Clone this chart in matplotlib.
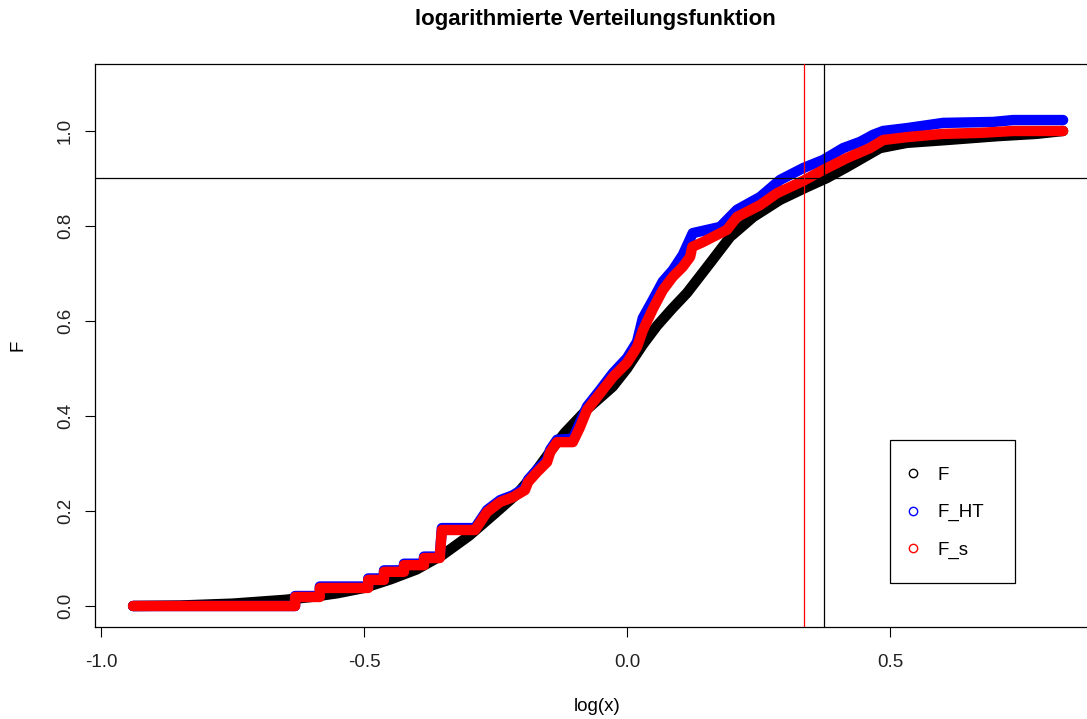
import matplotlib
matplotlib.use("Agg")
import matplotlib.pyplot as plt
from matplotlib.patches import Rectangle
from matplotlib.lines import Line2D

plt.rcParams['font.family'] = ['Liberation Sans', 'DejaVu Sans']

# empirische Verteilungsfunktion F (schwarz)
x_F = [-0.939, -0.85, -0.80, -0.75, -0.70, -0.65, -0.60, -0.55, -0.50, -0.45,
       -0.40, -0.35, -0.30, -0.25, -0.209, -0.179, -0.143, -0.118, -0.075, -0.027,
       0.0, 0.03, 0.057, 0.085, 0.114, 0.158, 0.196, 0.240, 0.291, 0.342,
       0.380, 0.418, 0.481, 0.532, 0.608, 0.703, 0.779, 0.829]
y_F = [0.0, 0.001, 0.003, 0.005, 0.009, 0.013, 0.019, 0.027, 0.038, 0.056,
       0.077, 0.108, 0.148, 0.196, 0.236, 0.275, 0.330, 0.365, 0.415, 0.462,
       0.500, 0.550, 0.590, 0.625, 0.659, 0.722, 0.777, 0.819, 0.855, 0.882,
       0.901, 0.924, 0.964, 0.975, 0.981, 0.989, 0.994, 1.0]

# Horvitz-Thompson Schaetzer F_HT (blau)
x_HT = [-0.939, -0.631, -0.631, -0.584, -0.584, -0.492, -0.492, -0.462, -0.462, -0.424,
        -0.424, -0.386, -0.386, -0.356, -0.352, -0.289, -0.266, -0.241, -0.217, -0.194,
        -0.188, -0.171, -0.152, -0.146, -0.133, -0.103, -0.090, -0.076, -0.051, -0.027,
        0.0, 0.019, 0.030, 0.049, 0.068, 0.087, 0.106, 0.125, 0.177, 0.209,
        0.253, 0.291, 0.335, 0.373, 0.411, 0.443, 0.468, 0.487, 0.532, 0.601,
        0.696, 0.734, 0.829]
y_HT = [0.0, 0.0, 0.021, 0.021, 0.041, 0.041, 0.058, 0.058, 0.075, 0.075,
        0.089, 0.089, 0.104, 0.104, 0.164, 0.164, 0.202, 0.223, 0.233, 0.249,
        0.266, 0.287, 0.308, 0.329, 0.350, 0.352, 0.385, 0.420, 0.455, 0.490,
        0.522, 0.556, 0.606, 0.644, 0.683, 0.707, 0.739, 0.785, 0.798, 0.834,
        0.861, 0.897, 0.922, 0.939, 0.964, 0.977, 0.992, 1.0, 1.006, 1.017,
        1.019, 1.023, 1.023]

# geglaetteter Schaetzer F_s (rot)
x_s = [-0.939, -0.631, -0.631, -0.584, -0.584, -0.492, -0.492, -0.462, -0.462, -0.424,
       -0.424, -0.386, -0.386, -0.356, -0.352, -0.289, -0.266, -0.241, -0.217, -0.194,
       -0.188, -0.171, -0.152, -0.146, -0.133, -0.103, -0.090, -0.076, -0.051, -0.027,
       0.0, 0.019, 0.030, 0.049, 0.068, 0.087, 0.106, 0.120, 0.124, 0.144,
       0.190, 0.209, 0.253, 0.285, 0.335, 0.373, 0.418, 0.462, 0.487, 0.532,
       0.601, 0.671, 0.734, 0.829]
y_s = [0.0, 0.0, 0.019, 0.019, 0.038, 0.038, 0.055, 0.055, 0.072, 0.072,
       0.086, 0.086, 0.101, 0.101, 0.160, 0.160, 0.198, 0.219, 0.229, 0.244,
       0.261, 0.282, 0.303, 0.324, 0.345, 0.345, 0.375, 0.413, 0.448, 0.482,
       0.512, 0.545, 0.580, 0.625, 0.665, 0.693, 0.714, 0.735, 0.756, 0.766,
       0.792, 0.819, 0.844, 0.869, 0.895, 0.918, 0.943, 0.964, 0.981, 0.987,
       0.994, 0.996, 1.0, 1.0]

quantil_F = 0.375
quantil_s = 0.336
niveau = 0.9

x_ticks = [-1.0, -0.5, 0.0, 0.5]
y_ticks = [0.0, 0.2, 0.4, 0.6, 0.8, 1.0]

fig = plt.figure(figsize=(10.87, 7.19), dpi=100)
ax = fig.add_axes([95 / 1087, 92 / 719, 1000 / 1087, 563 / 719])

band = dict(lw=7.5, solid_capstyle='round', solid_joinstyle='round')
ax.plot(x_F, y_F, color='black', **band)
ax.plot(x_HT, y_HT, color='blue', **band)
ax.plot(x_s, y_s, color='red', **band)

ax.axhline(niveau, color='black', lw=0.9, zorder=4)
ax.axvline(quantil_F, color='black', lw=0.9, zorder=4)
ax.axvline(quantil_s, color='red', lw=0.9, zorder=4)

ax.set_xlim(-1.0114, 0.8897)
ax.set_ylim(-0.0442, 1.141)
ax.set_xticks(x_ticks)
ax.set_xticklabels(['-1.0', '-0.5', '0.0', '0.5'])
ax.set_yticks(y_ticks)
ax.set_yticklabels(['0.0', '0.2', '0.4', '0.6', '0.8', '1.0'], rotation=90, va='center')
ax.tick_params(direction='out', length=7.2, width=0.8, labelsize=13.5,
               labelcolor='#222222')
ax.tick_params(axis='x', pad=12)
ax.tick_params(axis='y', pad=8)
for s in ax.spines.values():
    s.set_linewidth(0.9)

ax.set_xlabel('log(x)', fontsize=13.5)
ax.xaxis.set_label_coords(0.502, -0.142)
ax.xaxis.label.set_va('center')
ax.set_ylabel('F', fontsize=13.5)
ax.yaxis.set_label_coords(-0.077, 0.5)
ax.yaxis.label.set_va('center')

fig.text(595 / 1087, 1 - 19 / 719, 'logarithmierte Verteilungsfunktion',
         fontsize=16, fontweight='bold', ha='center', va='center')

# Legende
ax.add_patch(Rectangle((0.795, 0.078), 0.125, 0.254, transform=ax.transAxes,
                       fill=False, edgecolor='black', lw=0.9, zorder=5))
handles = [Line2D([], [], ls='none', marker='o', mfc='none', mec=c, ms=6, mew=1)
           for c in ['black', 'blue', 'red']]
ax.legend(handles, ['F', 'F_HT', 'F_s'], loc='center', bbox_to_anchor=(0.85, 0.203),
          frameon=False, fontsize=13.5, borderpad=0, handlelength=0.8,
          handletextpad=0.88, labelspacing=1.07)

fig.savefig('out.png', dpi=100)
